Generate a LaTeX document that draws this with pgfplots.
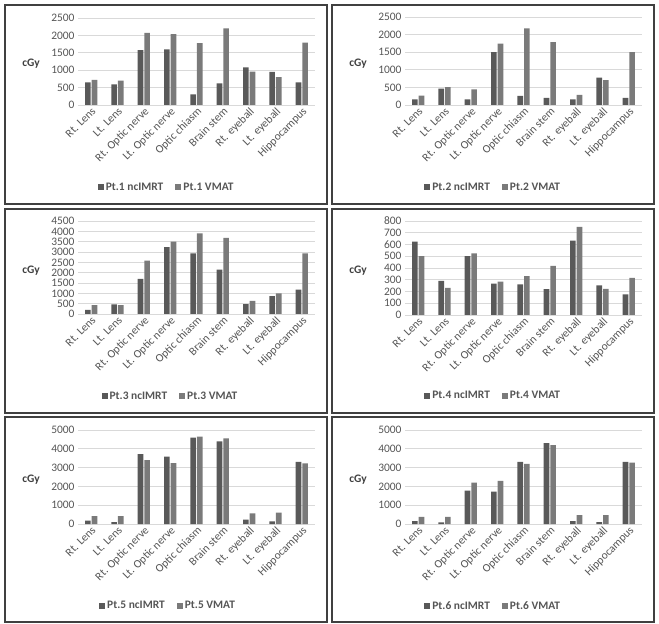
\documentclass[border=0pt]{standalone}
\usepackage{fontspec}
\setmainfont{Carlito}
\usepackage{pgfplots}
\usepackage{pgfplotstable}
\pgfplotsset{compat=1.18}

\definecolor{imrtgray}{HTML}{595959}
\definecolor{vmatgray}{HTML}{7A7A7A}
\definecolor{gridgray}{HTML}{D9D9D9}
\definecolor{labgray}{HTML}{555555}
\definecolor{boxgray}{HTML}{404040}

\newcommand{\lbl}{\fontsize{11.5}{13}\selectfont}

% columns: organ index, ncIMRT dose, VMAT dose (cGy)
\pgfplotstableread{
x nc vmat
0 650 725
1 590 700
2 1575 2070
3 1600 2040
4 305 1780
5 620 2200
6 1080 960
7 955 800
8 650 1790
}\ptone
\pgfplotstableread{
x nc vmat
0 160 265
1 465 505
2 160 445
3 1500 1740
4 260 2175
5 200 1785
6 160 285
7 775 705
8 200 1500
}\pttwo
\pgfplotstableread{
x nc vmat
0 200 430
1 470 430
2 1700 2580
3 3230 3500
4 2930 3900
5 2150 3680
6 480 630
7 870 1000
8 1180 2930
}\ptthree
\pgfplotstableread{
x nc vmat
0 625 500
1 290 230
2 500 525
3 268 283
4 260 330
5 220 418
6 632 750
7 253 222
8 175 316
}\ptfour
\pgfplotstableread{
x nc vmat
0 180 420
1 100 420
2 3720 3400
3 3590 3240
4 4600 4650
5 4400 4550
6 230 560
7 140 610
8 3300 3220
}\ptfive
\pgfplotstableread{
x nc vmat
0 150 380
1 80 380
2 1780 2200
3 1720 2300
4 3300 3200
5 4300 4200
6 150 470
7 100 470
8 3300 3270
}\ptsix

\pgfplotsset{
  panel/.style={
    scale only axis, width=237bp, anchor=south west, clip=false,
    xmin=-0.5, xmax=8.5, ymin=0,
    ybar=1bp, bar width=5.6bp,
    axis line style={draw=none},
    ymajorgrids, major grid style={gridgray, line width=0.8bp},
    major tick length=0pt,
    xtick={0,...,8},
    xticklabels={Rt. Lens, Lt. Lens, Rt. Optic nerve, Lt. Optic nerve, Optic chiasm, Brain stem, Rt. eyeball, Lt. eyeball, Hippocampus},
    xticklabel style={rotate=45, anchor=north east, font=\lbl, text=labgray, inner sep=1bp},
    yticklabel style={font=\lbl, text=labgray},
    /pgf/number format/assume math mode=true,
    /pgf/number format/1000 sep={},
    scaled y ticks=false,
    legend columns=2,
    legend cell align=left,
    legend style={draw=none, fill=none, font=\bfseries\lbl, text=labgray, anchor=center,
      /tikz/every even column/.append style={column sep=10bp}},
    legend image code/.code={\fill[##1] (0bp,-3bp) rectangle (6bp,3bp);},
  },
  imrt/.style={fill=imrtgray, draw=none},
  vmat/.style={fill=vmatgray, draw=none},
}

\newcommand{\cgy}{\node[font=\bfseries\lbl, text=boxgray] at (axis description cs:-0.198,0.47) {cGy};}

\begin{document}
\begin{tikzpicture}
\useasboundingbox (0bp,0bp) rectangle (659bp,624bp);

% panel frames
\begin{scope}[draw=boxgray, line width=1.2bp]
\draw (5bp,619bp) rectangle (327bp,420bp);
\draw (332bp,619bp) rectangle (654bp,420bp);
\draw (5bp,415bp) rectangle (327bp,211bp);
\draw (332bp,415bp) rectangle (654bp,211bp);
\draw (5bp,207bp) rectangle (327bp,2bp);
\draw (332bp,207bp) rectangle (654bp,2bp);
\end{scope}

% Pt.1
\begin{axis}[panel, at={(78bp,519bp)}, height=87bp, ymax=2500, ytick={0,500,...,2500},
  legend style={at={(0.374,-0.943)}}]
\addplot[imrt] table[x=x, y=nc] {\ptone};
\addplot[vmat] table[x=x, y=vmat] {\ptone};
\legend{Pt.1 ncIMRT, Pt.1 VMAT}
\cgy
\end{axis}

% Pt.2
\begin{axis}[panel, at={(405bp,519bp)}, height=88bp, ymax=2500, ytick={0,500,...,2500},
  legend style={at={(0.372,-0.932)}}]
\addplot[imrt] table[x=x, y=nc] {\pttwo};
\addplot[vmat] table[x=x, y=vmat] {\pttwo};
\legend{Pt.2 ncIMRT, Pt.2 VMAT}
\cgy
\end{axis}

% Pt.3
\begin{axis}[panel, at={(78bp,310bp)}, height=93bp, ymax=4500, ytick={0,500,...,4500},
  legend style={at={(0.39,-0.882)}}]
\addplot[imrt] table[x=x, y=nc] {\ptthree};
\addplot[vmat] table[x=x, y=vmat] {\ptthree};
\legend{Pt.3 ncIMRT, Pt.3 VMAT}
\cgy
\end{axis}

% Pt.4
\begin{axis}[panel, at={(405bp,309bp)}, height=94bp, ymax=800, ytick={0,100,...,800},
  legend style={at={(0.372,-0.862)}}]
\addplot[imrt] table[x=x, y=nc] {\ptfour};
\addplot[vmat] table[x=x, y=vmat] {\ptfour};
\legend{Pt.4 ncIMRT, Pt.4 VMAT}
\cgy
\end{axis}

% Pt.5
\begin{axis}[panel, at={(78bp,100bp)}, height=94bp, ymax=5000, ytick={0,1000,...,5000},
  legend style={at={(0.38,-0.872)}}]
\addplot[imrt] table[x=x, y=nc] {\ptfive};
\addplot[vmat] table[x=x, y=vmat] {\ptfive};
\legend{Pt.5 ncIMRT, Pt.5 VMAT}
\cgy
\end{axis}

% Pt.6
\begin{axis}[panel, at={(405bp,100bp)}, height=94bp, ymax=5000, ytick={0,1000,...,5000},
  legend style={at={(0.372,-0.872)}}]
\addplot[imrt] table[x=x, y=nc] {\ptsix};
\addplot[vmat] table[x=x, y=vmat] {\ptsix};
\legend{Pt.6 ncIMRT, Pt.6 VMAT}
\cgy
\end{axis}
\end{tikzpicture}
\end{document}
